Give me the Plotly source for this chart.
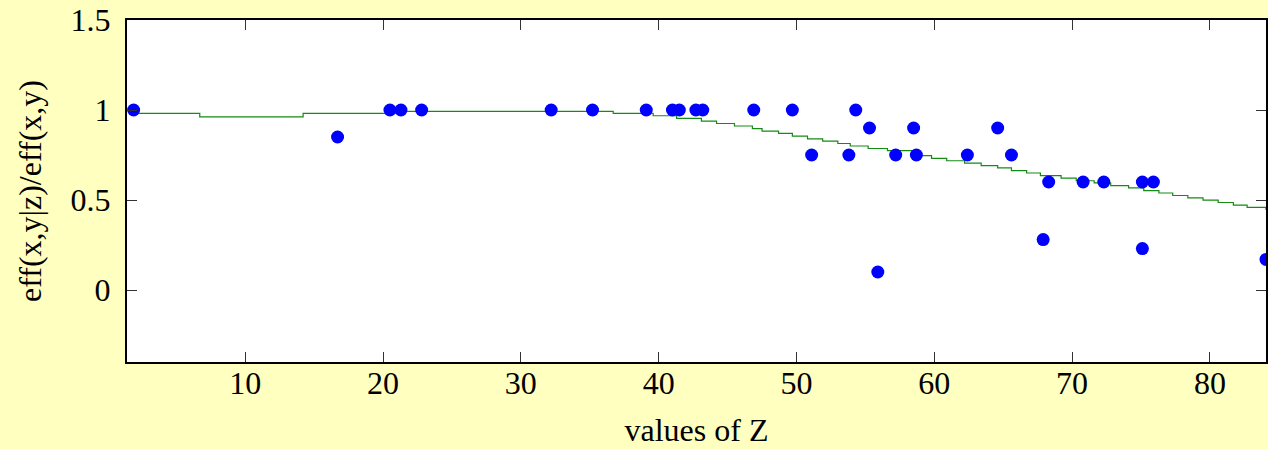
import plotly.graph_objects as go

# Scatter data: values of Z vs eff(x,y|z)/eff(x,y)
z_vals = [1.9, 16.7, 20.5, 21.3, 22.8, 32.2, 35.2, 39.1, 41.0, 41.5, 42.7, 43.2,
          46.9, 49.7, 51.1, 53.8, 54.3, 55.3, 55.9, 57.2, 58.5, 58.7, 62.4, 64.6,
          65.6, 67.9, 68.3, 70.8, 72.3, 75.1, 75.1, 75.9, 84.07]
ratio_vals = [1.0, 0.85, 1.0, 1.0, 1.0, 1.0, 1.0, 1.0, 1.0, 1.0, 1.0, 1.0,
              1.0, 1.0, 0.75, 0.75, 1.0, 0.9, 0.1, 0.75, 0.9, 0.75, 0.75, 0.9,
              0.75, 0.28, 0.6, 0.6, 0.6, 0.6, 0.23, 0.6, 0.17]

# Smoothed (stepped) curve: step start positions and levels
curve_z = [1.9, 6.7, 14.2, 21.1, 36.7, 39.6, 41.3, 43.1, 44.2, 45.5, 46.8, 47.5,
           48.7, 49.7, 50.8, 51.9, 53.0, 53.9, 55.2, 56.6, 58.8, 59.8, 60.9, 62.2,
           63.4, 64.6, 65.6, 66.7, 67.7, 69.2, 70.3, 71.6, 72.8, 74.1, 75.2, 76.3,
           77.3, 78.4, 79.5, 80.6, 81.7, 82.7, 84.07]
curve_y = [0.981, 0.962, 0.981, 0.992, 0.981, 0.968, 0.953, 0.938, 0.925, 0.911,
           0.896, 0.883, 0.870, 0.855, 0.840, 0.827, 0.814, 0.800, 0.786, 0.774,
           0.746, 0.731, 0.718, 0.705, 0.691, 0.678, 0.663, 0.650, 0.635, 0.622,
           0.607, 0.595, 0.580, 0.567, 0.552, 0.539, 0.525, 0.512, 0.499, 0.486,
           0.472, 0.459, 0.445]

x_ticks = [10, 20, 30, 40, 50, 60, 70, 80]
y_ticks = [0, 0.5, 1, 1.5]
y_tick_text = ["0", "0.5", "1", "1.5"]

font_family = "Liberation Serif"
bg = "#ffffbf"

fig = go.Figure()
fig.add_trace(go.Scatter(
    x=curve_z, y=curve_y, mode="lines", line_shape="hv",
    line=dict(color="#158a15", width=1.2), hoverinfo="skip", cliponaxis=True))
fig.add_trace(go.Scatter(
    x=z_vals, y=ratio_vals, mode="markers",
    marker=dict(color="#0000ff", size=13, line=dict(width=0)), cliponaxis=True))

axis_common = dict(
    showgrid=False, zeroline=False, ticks="inside", ticklen=10, tickwidth=1,
    tickcolor="#333333", showline=True, linecolor="black", linewidth=2,
    mirror="ticks", tickfont=dict(family=font_family, size=32, color="black"))

fig.update_xaxes(range=[1.42, 84.07], tickvals=x_ticks, ticklabelstandoff=-8,
                 title=dict(text="values of Z", font=dict(family=font_family, size=32, color="black"), standoff=18),
                 **axis_common)
fig.update_yaxes(range=[-0.4, 1.5], tickvals=y_ticks, ticktext=y_tick_text, ticklabelstandoff=8,
                 title=dict(text="eff(x,y|z)/eff(x,y)", font=dict(family=font_family, size=32, color="black"), standoff=19),
                 **axis_common)

fig.update_layout(
    width=1268, height=449, showlegend=False,
    paper_bgcolor=bg, plot_bgcolor="white",
    margin=dict(l=127, r=0, t=20, b=87),
    font=dict(family=font_family, size=32, color="black"))

fig.write_html("out.html", config={"displayModeBar": False},
               post_script="document.body.style.margin='0';document.body.style.background='%s';" % bg)
